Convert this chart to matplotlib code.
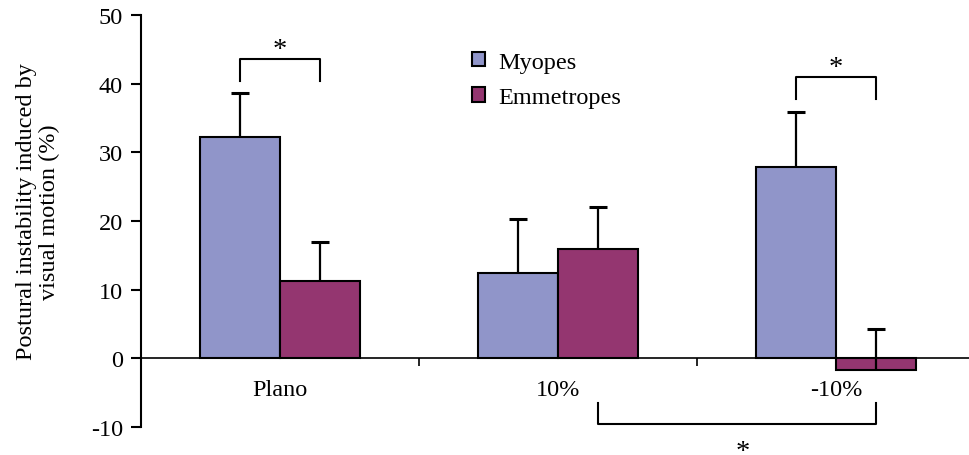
import numpy as np
import matplotlib.pyplot as plt

plt.rcParams['font.family'] = ['Liberation Serif', 'DejaVu Serif']
plt.rcParams['axes.unicode_minus'] = False

conditions = ['Plano', '10%', '-10%']
myopes = [32.2, 12.5, 27.9]
myopes_err = [6.4, 7.8, 8.0]
emmetropes = [11.3, 15.9, -1.7]
emmetropes_err = [5.7, 6.1, 6.0]

c_myo = '#9095c9'
c_emm = '#943670'
fs = 17.5

fig = plt.figure(figsize=(9.7, 4.56), dpi=100)
ax = fig.add_axes([141/970, 28/456, 834/970, 412/456])

x = np.arange(len(conditions))
w = 0.288

ax.bar(x - w/2, myopes, w, color=c_myo, edgecolor='black', linewidth=1.5,
       label='Myopes', zorder=3)
ax.bar(x + w/2, emmetropes, w, color=c_emm, edgecolor='black', linewidth=1.5,
       label='Emmetropes', zorder=3)

# upper half of the error bars only
for xs, vals, errs in [(x - w/2, myopes, myopes_err), (x + w/2, emmetropes, emmetropes_err)]:
    tops = np.array(vals) + np.array(errs)
    ax.vlines(xs, vals, tops, color='black', lw=1.6, zorder=4)
    ax.plot(xs, tops, ls='none', marker='_', ms=12.5, mew=2.2, color='black', zorder=4)

ax.set_xlim(-0.5, 2.5)
ax.set_ylim(-10, 50)
ax.set_yticks(range(-10, 51, 10))

for s in ['top', 'right']:
    ax.spines[s].set_visible(False)
ax.spines['bottom'].set_position(('data', 0))
ax.spines['bottom'].set_linewidth(1.2)
ax.spines['left'].set_linewidth(1.5)
ax.spines['bottom'].set_zorder(2)

# category boundaries as ticks, names as minor labels
ax.set_xticks([0.5, 1.5])
ax.set_xticklabels([])
ax.tick_params(axis='x', which='major', direction='out', length=6, width=1.2)
ax.set_xticks(x, minor=True)
ax.set_xticklabels(conditions, minor=True, fontsize=fs)
ax.tick_params(axis='x', which='minor', length=0, pad=15)
ax.tick_params(axis='y', direction='out', length=7, width=1.5, labelsize=fs, pad=6)

fig.text(38/970, 1 - 212/456, 'Postural instability induced by\nvisual motion (%)',
         rotation=90, ha='center', va='center', fontsize=fs, multialignment='center',
         linespacing=1.1)

# significance brackets: (x left, x right, leg end, bar level, direction)
brackets = [
    (x[0] - w/2, x[0] + w/2, 40.4, 43.6, 'up'),
    (x[2] - w/2, x[2] + w/2, 37.7, 40.9, 'up'),
    (x[1] + w/2, x[2] + w/2, -6.5, -9.6, 'down'),
]
for xl, xr, leg, lvl, d in brackets:
    ax.plot([xl, xl, xr, xr], [leg, lvl, lvl, leg], color='black', lw=1.5,
            clip_on=False, zorder=5)
    if d == 'up':
        ax.text((xl + xr) / 2, lvl + 0.5, '*', ha='center', va='baseline',
                fontsize=fs + 3)
    else:
        ax.text((xl + xr) / 2 + 0.02, lvl - 4.9, '*', ha='center', va='baseline',
                fontsize=fs + 3, clip_on=False)

ax.legend(frameon=False, fontsize=fs, loc='upper left',
          bbox_to_anchor=(321/834, 1 - 27/412), handlelength=0.55, handleheight=0.55,
          handletextpad=0.55, labelspacing=0.6, borderaxespad=0)

fig.savefig('out.png', dpi=100)
